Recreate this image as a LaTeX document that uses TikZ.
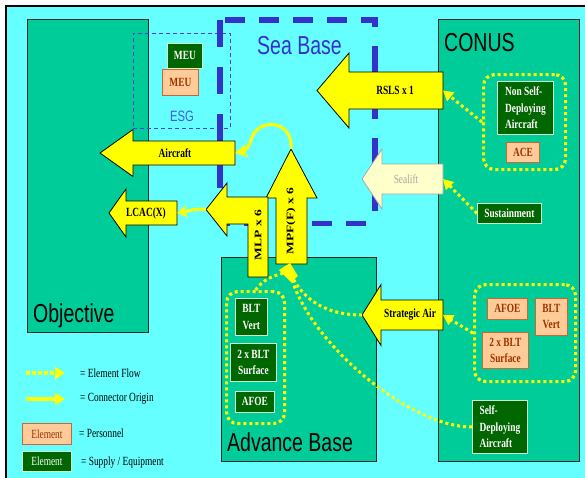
\documentclass[tikz,border=0pt]{standalone}
\usepackage{fontspec}
\newfontfamily\serifc{Liberation Serif}[FakeStretch=0.75]
\newfontfamily\serifv{Liberation Serif}[FakeStretch=1.35]
\newfontfamily\sansc{Liberation Sans}[FakeStretch=0.75]
\usetikzlibrary{arrows.meta}

\definecolor{seabg}{RGB}{102,255,255}
\definecolor{landgreen}{RGB}{0,204,153}
\definecolor{equipgreen}{RGB}{0,102,0}
\definecolor{peach}{RGB}{255,204,153}
\definecolor{peachedge}{RGB}{204,102,51}
\definecolor{peachtext}{RGB}{153,51,0}
\definecolor{seablue}{RGB}{51,51,204}
\definecolor{esgblue}{RGB}{70,90,230}
\definecolor{esgline}{RGB}{90,60,210}
\definecolor{flowyellow}{RGB}{255,255,0}
\definecolor{sealiftfill}{RGB}{255,255,204}

% left-pointing block arrow: name, style, tip x, centre y, head base x, tail x, body half height, head half height
\newcommand\leftblock[8]{%
  \draw[#2] ({#3},{#4}) -- ({#5},{#4-#8}) -- ({#5},{#4-#7}) -- ({#6},{#4-#7})
    -- ({#6},{#4+#7}) -- ({#5},{#4+#7}) -- ({#5},{#4+#8}) -- cycle;
  \coordinate (#1-tip) at ({#3},{#4});
  \coordinate (#1-end) at ({#6},{#4});
}

\begin{document}
\begin{tikzpicture}[x=1pt,y=-1pt,
  region/.style={draw=black!85, line width=0.8pt, fill=landgreen, inner sep=0pt, anchor=north west},
  title/.style={font=\fontsize{26}{30}\sansc, inner sep=0pt, anchor=base west},
  equip/.style={draw=white!80!green, line width=0.8pt, fill=equipgreen, text=white,
    font=\fontsize{12.5}{16.5}\serifc\bfseries, inner sep=0pt, anchor=north west, align=center},
  person/.style={draw=peachedge, line width=0.8pt, fill=peach, text=peachtext,
    font=\fontsize{12.5}{16}\serifc\bfseries, inner sep=0pt, anchor=north west, align=center},
  group/.style={draw=flowyellow, line width=3.2pt, dash pattern=on 3pt off 3pt,
    rounded corners=11pt, inner sep=0pt, anchor=north west},
  bigarrow/.style={draw=black, line width=0.8pt, fill=flowyellow, line join=miter},
  paleblock/.style={draw=black!35, line width=0.8pt, fill=sealiftfill, line join=miter},
  lbl/.style={font=\fontsize{12.5}{15}\serifc\bfseries, inner sep=0pt},
  vlbl/.style={font=\fontsize{10}{12}\serifv\bfseries, inner sep=0pt, rotate=90},
  legendtext/.style={font=\fontsize{12.5}{15}\serifc, inner sep=0pt, anchor=west},
  flow/.style={draw=flowyellow, line width=3pt, dash pattern=on 3pt off 3pt},
  flowtip/.style={-{Triangle[length=10pt,width=11pt]}},
  conn/.style={draw=flowyellow, line width=3pt, -{Stealth[length=12pt,width=13pt,inset=3pt]}},
]
\useasboundingbox (0,0) rectangle (585,477);
\fill[white] (0,0) rectangle (585,477);
\draw[fill=seabg, line width=2pt] (6,5.5) rectangle (600,490);

% land regions
\node[region, minimum width=121pt, minimum height=313pt] (objective) at (27,19) {};
\node[title] (objlbl) at (33,322) {Objective};
\node[region, minimum width=141pt, minimum height=442pt] (conus) at (438,19) {};
\node[title] (conuslbl) at (444,51) {CONUS};
\node[region, minimum width=155pt, minimum height=204pt] (advance) at (221,257) {};
\node[title] (advlbl) at (227,451) {Advance Base};

% ESG
\node[draw=esgline, line width=0.8pt, dash pattern=on 4pt off 3pt, inner sep=0pt,
  anchor=north west, minimum width=97pt, minimum height=95pt] (esg) at (133,33) {};
\node[font=\fontsize{15}{18}\sansc, text=esgblue, inner sep=0pt, anchor=base west] (esglbl) at (170,121) {ESG};
\node[equip, minimum width=35pt, minimum height=25pt] (meuequip) at (167,43) {MEU};
\node[person, minimum width=36pt, minimum height=26pt] (meuperson) at (162,69) {MEU};

% Sea Base outline
\begin{scope}[color=seablue, line width=5.5pt]
  \draw[dash pattern=on 20pt off 14pt, dash phase=29pt] (220,20) -- (377.5,20);
  \draw[dash pattern=on 27pt off 19pt, dash phase=20pt] (375,20) -- (375,223.5);
  \draw[dash pattern=on 20pt off 14pt, dash phase=25pt] (375,223.5) -- (220,223.5);
  \draw[dash pattern=on 27pt off 20pt] (220,20) -- (220,223.5);
\end{scope}
\node[font=\fontsize{26}{30}\sansc, text=seablue, inner sep=0pt, anchor=base west] (sealbl) at (257,54) {Sea Base};

% CONUS contents
\node[group, minimum width=82pt, minimum height=95pt] (nsgroup) at (482,73) {};
\node[equip, minimum width=56pt, minimum height=53pt, align=left] (nonself) at (497,81) {Non Self-\\Deploying\\Aircraft};
\node[person, minimum width=33pt, minimum height=20pt] (ace) at (506,142) {ACE};
\node[equip, minimum width=64pt, minimum height=20pt] (sustain) at (477,203) {Sustainment};
\node[group, minimum width=101pt, minimum height=97pt] (pgroup) at (473,283) {};
\node[person, minimum width=40pt, minimum height=21pt] (afoep) at (487,298) {AFOE};
\node[person, minimum width=32pt, minimum height=37pt] (bltvp) at (535,298) {BLT\\Vert};
\node[person, minimum width=46pt, minimum height=36pt] (bltsp) at (482,332) {2 x BLT\\Surface};
\node[equip, minimum width=55pt, minimum height=53pt, align=left] (selfdep) at (472,400) {Self-\\Deploying\\Aircraft};

% Advance Base contents
\node[group, minimum width=58pt, minimum height=132pt] (abgroup) at (225,290) {};
\node[equip, minimum width=32pt, minimum height=37pt] (bltve) at (235,298) {BLT\\Vert};
\node[equip, minimum width=46pt, minimum height=38pt] (bltse) at (230,343) {2 x BLT\\Surface};
\node[equip, minimum width=39pt, minimum height=21pt] (afoee) at (235,391) {AFOE};

% lift arrows
\leftblock{aircraft}{bigarrow}{100}{153}{133}{235}{12}{23.5}
\node[lbl] (aircraftlbl) at (175,153) {Aircraft};
\leftblock{lcac}{bigarrow}{109}{213}{126}{177}{12}{24}
\node[lbl] (lcaclbl) at (146,213) {LCAC(X)};
\leftblock{rsls}{bigarrow}{317}{90.5}{349}{443}{18.5}{37.5}
\node[lbl] (rslslbl) at (395,90.5) {RSLS x 1};
\leftblock{sealift}{paleblock}{362}{179}{382}{443}{15}{30}
\node[lbl, font=\fontsize{12.5}{15}\serifc, text=black!35] (sealiftlbl) at (406,179) {Sealift};
\leftblock{strat}{bigarrow}{362}{315}{381}{443}{15}{30.5}
\node[lbl] (stratlbl) at (410,315) {Strategic Air};

% MPF(F) up arrow
\draw[bigarrow] (291,149) -- (317,198) -- (307,198) -- (307,264) -- (276,264)
  -- (276,198) -- (266,198) -- cycle;
\coordinate (mpf-tip) at (291,149);
\node[vlbl] (mpflbl) at (291,221) {MPF(F) x 6};
% MLP bent arrow
\draw[bigarrow] (206,209.5) -- (227,183) -- (227,197) -- (268,197) -- (268,277)
  -- (248,277) -- (248,224) -- (227,224) -- (227,236) -- cycle;
\coordinate (mlp-tip) at (206,209.5);
\node[vlbl] (mlplbl) at (258,235) {MLP x 6};

% element flows
\coordinate (hub) at (290,272);
\draw[flow, flowtip] (nsgroup.west) -- (rsls-end);
\draw[flow, flowtip] (sustain.west) -- (sealift-end);
\draw[flow, flowtip] (pgroup.west) -- (strat-end);
\draw[flow] (strat-tip) .. controls (322,315) and (300,296) .. (hub);
\draw[flow] (selfdep.west) .. controls (410,428) and (305,340) .. (hub);
\draw[flow] (abgroup.north) .. controls (262,280) and (275,274) .. (hub);
\fill[flowyellow] (279,270) -- (290,263) -- (298,276) -- (291,282) -- cycle;

% connector origins
\draw[conn] (mpf-tip) .. controls (293,118) and (256,118) .. (251,140)
  .. controls (249,147) and (245,151) .. (aircraft-end);
\draw[conn, -{Stealth[length=10pt,width=12pt,inset=2.5pt]}] (mlp-tip) .. controls (196,208) and (189,211) .. (lcac-end);

% legend
\coordinate (lgfa) at (26,373); \coordinate (lgfb) at (65,373);
\draw[flow, line width=4pt, dash pattern=on 4pt off 2pt, -{Triangle[length=10pt,width=12pt]}] (lgfa) -- (lgfb);
\node[legendtext] (lgft) at (80,373) {= Element Flow};
\coordinate (lgca) at (26,399); \coordinate (lgcb) at (65,399);
\draw[draw=flowyellow, line width=4pt, -{Triangle[length=10pt,width=12pt]}] (lgca) -- (lgcb);
\node[legendtext] (lgct) at (80,399) {= Connector Origin};
\node[person, minimum width=49pt, minimum height=21pt, font=\fontsize{12.5}{15}\serifc] (lgp) at (22,423) {Element};
\node[legendtext] (lgpt) at (79,433) {= Personnel};
\node[equip, minimum width=49pt, minimum height=20pt, font=\fontsize{12.5}{15}\serifc] (lge) at (22,451) {Element};
\node[legendtext] (lget) at (81,463) {= Supply / Equipment};
\end{tikzpicture}
\end{document}
